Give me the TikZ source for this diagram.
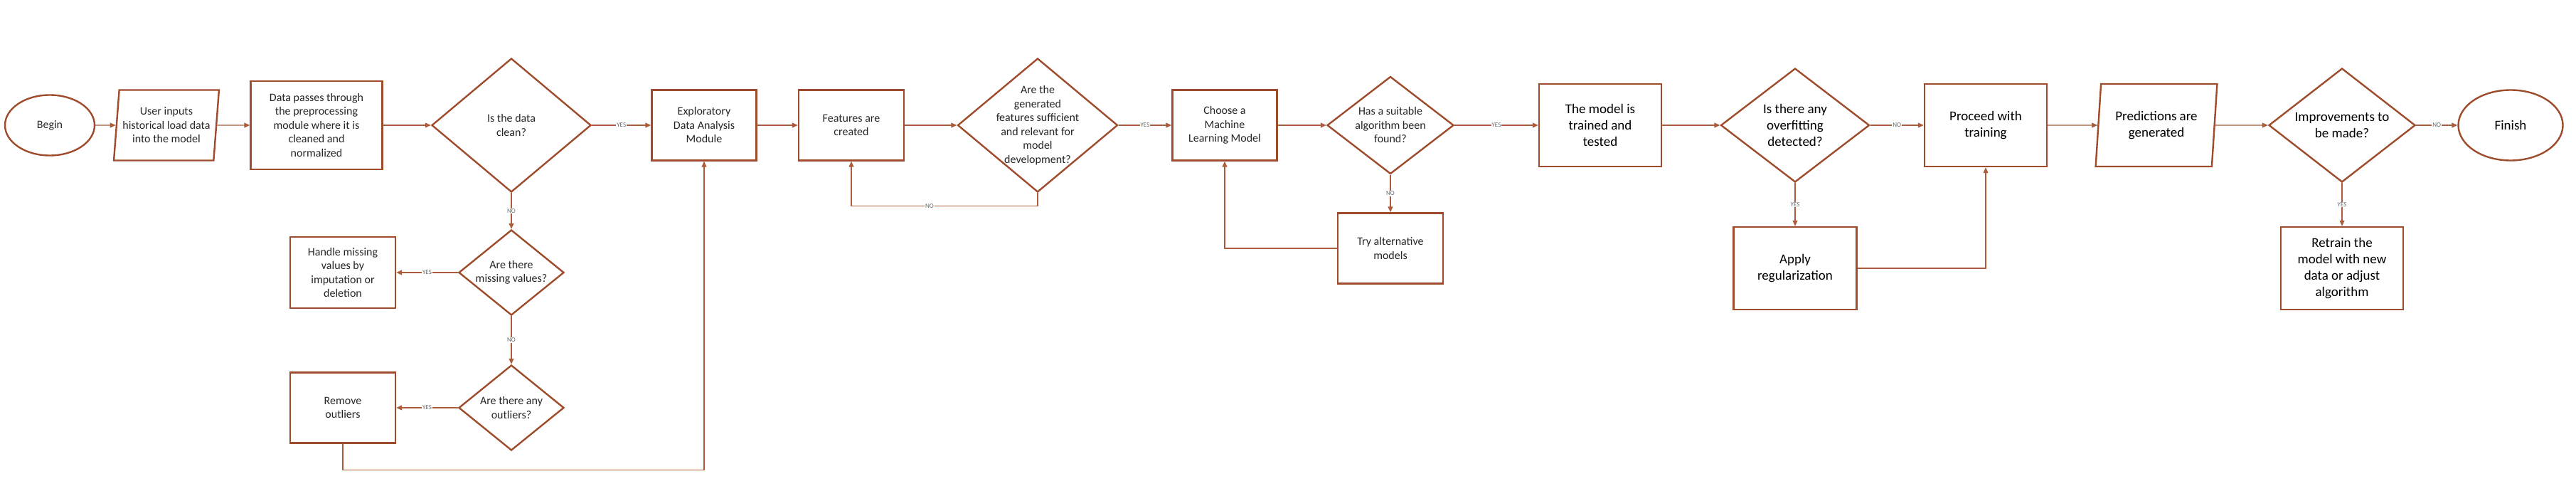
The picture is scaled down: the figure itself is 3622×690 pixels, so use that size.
\documentclass[tikz,border=0pt]{standalone}
\usepackage{fontspec}
\setmainfont{Carlito}
\usepackage{tikz}
\usetikzlibrary{arrows.meta,shapes.geometric}
\definecolor{flowline}{RGB}{158,76,44}
\definecolor{flowarrow}{RGB}{172,92,58}
\newcommand{\flowfont}{\fontsize{16}{19.5}\selectfont}
\newcommand{\flowfontbig}{\fontsize{19}{23}\selectfont}
\tikzset{>={Triangle[length=8pt,width=7pt]}}
\tikzstyle{terminal}=[ellipse,draw=flowline,line width=2.4pt,inner sep=0pt,font=\flowfont,text=black!85]
\tikzstyle{process}=[rectangle,draw=flowline,line width=2.4pt,inner sep=0pt,align=center,font=\flowfont,text=black!85]
\tikzstyle{decision}=[diamond,draw=flowline,line width=2.4pt,inner sep=0pt,align=center,font=\flowfont,text=black!85]
\tikzstyle{io}=[trapezium,trapezium left angle=82,trapezium right angle=98,trapezium stretches=true,draw=flowline,line width=2.4pt,inner sep=0pt,align=center,font=\flowfont,text=black!85]
\tikzstyle{bigtext}=[font=\flowfontbig,text=black]
\tikzstyle{flow}=[->,draw=flowarrow,line width=1.1pt]
\tikzstyle{answer}=[fill=white,inner sep=1pt,font=\fontsize{9}{9}\selectfont,text=black!60]

\begin{document}
\begin{tikzpicture}[x=1pt,y=-1pt]
	\useasboundingbox (0,0) rectangle (3622,690);
	\def \ymain {176};

	\node[terminal, minimum width=126pt, minimum height=85pt] (begin) at (70,\ymain) {Begin};
	\node[io, minimum width=148pt, minimum height=99pt] (user) at (234,\ymain) {User inputs\\historical load data\\into the model};
	\node[process, minimum width=185pt, minimum height=124pt] (prep) at (445,\ymain) {Data passes through\\the preprocessing\\module where it is\\cleaned and\\normalized};
	\node[decision, minimum width=224pt, minimum height=188pt, shape aspect=1.19] (clean) at (719,\ymain) {Is the data\\clean?};
	\node[decision, minimum width=148pt, minimum height=120pt, shape aspect=1.23] (missing) at (719,383) {Are there\\missing values?};
	\node[process, minimum width=148pt, minimum height=100pt] (handle) at (482,383) {Handle missing\\values by\\imputation or\\deletion};
	\node[decision, minimum width=148pt, minimum height=120pt, shape aspect=1.23] (outliers) at (719,573) {Are there any\\outliers?};
	\node[process, minimum width=148pt, minimum height=99pt] (remove) at (482,573) {Remove\\outliers};

	\node[process, minimum width=147pt, minimum height=99pt] (eda) at (990,\ymain) {Exploratory\\Data Analysis\\Module};
	\node[process, minimum width=148pt, minimum height=99pt] (feat) at (1197,\ymain) {Features are\\created};
	\node[decision, minimum width=225pt, minimum height=188pt, shape aspect=1.2, inner xsep=-20pt] (suff) at (1459,\ymain) {Are the\\generated\\features sufficient\\and relevant for\\model\\development?};
	\node[process, minimum width=147pt, minimum height=99pt] (ml) at (1722,\ymain) {Choose a\\Machine\\Learning Model};
	\node[decision, minimum width=178pt, minimum height=137pt, shape aspect=1.3] (suit) at (1955,\ymain) {Has a suitable\\algorithm been\\found?};
	\node[process, minimum width=148pt, minimum height=99pt] (try) at (1955,349) {Try alternative\\models};

	\node[process, bigtext, minimum width=172pt, minimum height=116pt] (trained) at (2250,\ymain) {The model is\\trained and\\tested};
	\node[decision, bigtext, minimum width=209pt, minimum height=160pt, shape aspect=1.31] (overfit) at (2524,\ymain) {Is there any\\overfitting\\detected?};
	\node[process, bigtext, minimum width=172pt, minimum height=116pt] (proceed) at (2792,\ymain) {Proceed with\\training};
	\node[process, bigtext, minimum width=173pt, minimum height=116pt] (apply) at (2524,377) {Apply\\regularization};
	\node[io, bigtext, minimum width=171pt, minimum height=116pt] (pred) at (3032,\ymain) {Predictions are\\generated};
	\node[decision, bigtext, minimum width=206pt, minimum height=160pt, shape aspect=1.29] (improve) at (3293,\ymain) {Improvements to\\be made?};
	\node[process, bigtext, minimum width=172pt, minimum height=116pt] (retrain) at (3293,377) {Retrain the\\model with new\\data or adjust\\algorithm};
	\node[terminal, bigtext, minimum width=147pt, minimum height=99pt] (finish) at (3530,\ymain) {Finish};

	\foreach \from/\to in {begin/user,user/prep,prep/clean,eda/feat,feat/suff,ml/suit,trained/overfit,proceed/pred,pred/improve} {
		\draw[flow] (\from) -- (\to);
	};

	\foreach \from/\to/\reply in {clean/eda/YES,suff/ml/YES,suit/trained/YES,overfit/proceed/NO,improve/finish/NO,clean/missing/NO,missing/handle/YES,missing/outliers/NO,outliers/remove/YES,suit/try/NO,overfit/apply/YES,improve/retrain/YES} {
		\draw[flow] (\from) -- node[answer] {\reply} (\to);
	};

	\draw[flow] (suff.south) -- ++(0,18) -| node[answer, pos=0.29] {NO} (feat.south);
	\draw[flow] (try.west) -| (ml.south);
	\draw[flow] (apply.east) -| (proceed.south);
	\draw[flow] (remove.south) -- ++(0,37) -| (eda.south);
\end{tikzpicture}
\end{document}
